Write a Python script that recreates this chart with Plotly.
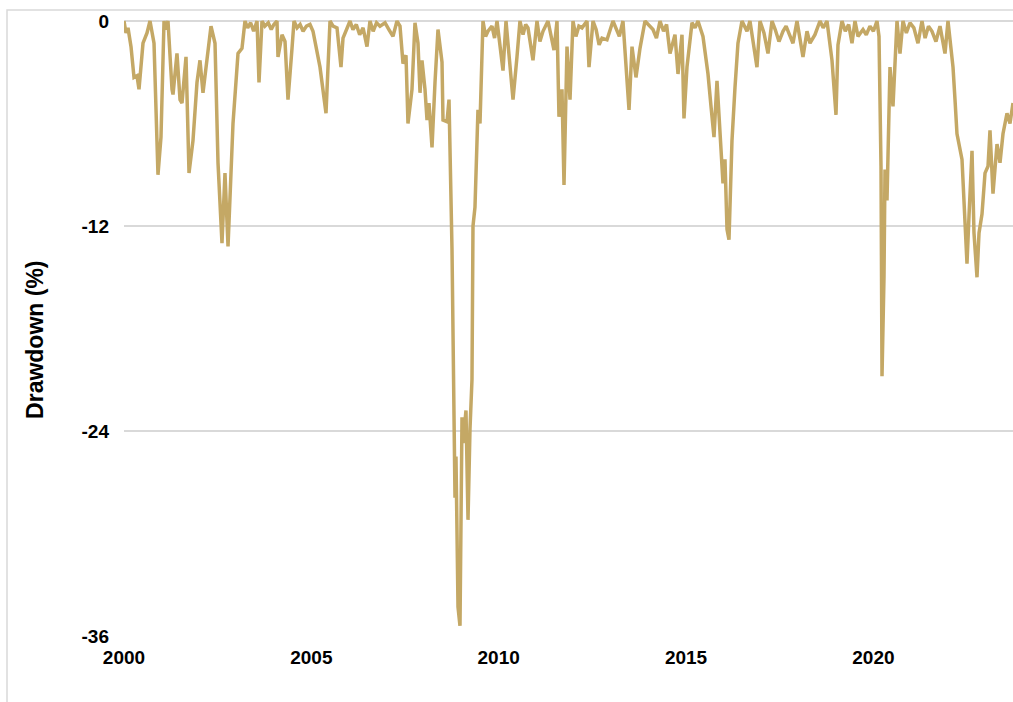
import plotly.graph_objects as go

# decimal-year offsets from 2000 and drawdown values (%)
year_offset = [
    0.000, 0.053, 0.107, 0.187, 0.267, 0.347, 0.400, 0.507, 0.614, 0.694,
    0.801, 0.907, 0.987, 1.068, 1.12, 1.174, 1.281, 1.308, 1.414, 1.495,
    1.548, 1.655, 1.735, 1.841, 1.948, 2.028, 2.108, 2.215, 2.322, 2.429,
    2.509, 2.615, 2.695, 2.776, 2.909, 3.043, 3.149, 3.229, 3.30, 3.38,
    3.46, 3.550, 3.603, 3.683, 3.76, 3.85, 3.93, 4.00, 4.083, 4.110,
    4.217, 4.297, 4.377, 4.484, 4.537, 4.62, 4.70, 4.78, 4.87, 4.964,
    5.044, 5.231, 5.391, 5.498, 5.58, 5.685, 5.791, 5.845, 6.032, 6.11,
    6.20, 6.29, 6.38, 6.485, 6.565, 6.65, 6.74, 6.832, 6.966, 7.07,
    7.179, 7.286, 7.366, 7.446, 7.526, 7.579, 7.686, 7.766, 7.846, 7.900,
    7.953, 8.033, 8.087, 8.140, 8.220, 8.300, 8.380, 8.487, 8.514, 8.620,
    8.674, 8.754, 8.807, 8.834, 8.860, 8.914, 8.967, 9.021, 9.047, 9.127,
    9.181, 9.234, 9.287, 9.314, 9.367, 9.421, 9.447, 9.501, 9.554, 9.581,
    9.65, 9.714, 9.821, 9.89, 9.955, 10.035, 10.115, 10.195, 10.382, 10.488,
    10.568, 10.65, 10.72, 10.782, 10.915, 11.022, 11.10, 11.182, 11.316, 11.476,
    11.556, 11.609, 11.689, 11.743, 11.823, 11.903, 11.983, 12.06, 12.14, 12.223,
    12.357, 12.410, 12.517, 12.60, 12.68, 12.757, 12.890, 13.050, 13.13, 13.22,
    13.317, 13.478, 13.558, 13.664, 13.771, 13.905, 14.118, 14.21, 14.305, 14.40,
    14.48, 14.572, 14.705, 14.785, 14.892, 14.945, 15.025, 15.159, 15.24, 15.319,
    15.452, 15.586, 15.666, 15.746, 15.826, 15.906, 15.986, 16.039, 16.093, 16.146,
    16.226, 16.306, 16.386, 16.493, 16.626, 16.706, 16.893, 16.973, 17.08, 17.187,
    17.294, 17.38, 17.48, 17.587, 17.67, 17.76, 17.854, 17.961, 18.121, 18.228,
    18.308, 18.441, 18.575, 18.66, 18.762, 18.895, 18.922, 19.002, 19.055, 19.162,
    19.25, 19.34, 19.429, 19.509, 19.589, 19.723, 19.81, 19.909, 20.00, 20.096,
    20.150, 20.203, 20.230, 20.283, 20.310, 20.363, 20.443, 20.523, 20.630, 20.710,
    20.790, 20.88, 20.977, 21.08, 21.190, 21.297, 21.38, 21.47, 21.564, 21.67,
    21.778, 21.911, 21.991, 22.125, 22.178, 22.231, 22.365, 22.445, 22.498, 22.552,
    22.632, 22.685, 22.765, 22.819, 22.899, 22.979, 23.059, 23.112, 23.192, 23.299,
    23.379, 23.459, 23.566, 23.646, 23.726,
]
drawdown = [
    0.0, -0.7, -0.4, -1.5, -3.3, -3.2, -4.0, -1.3, -0.7, 0.0,
    -1.3, -9.0, -6.8, 0.0, -0.5, 0.0, -4.0, -4.3, -1.9, -4.6,
    -4.8, -2.1, -8.9, -7.0, -3.6, -2.3, -4.2, -2.3, -0.3, -1.3,
    -8.3, -13.0, -8.9, -13.2, -6.0, -1.9, -1.6, 0.0, -0.4, -0.1,
    -0.6, 0.0, -3.6, 0.0, -0.3, -0.1, -0.5, -0.2, 0.0, -2.1,
    -0.8, -1.2, -4.6, -1.6, 0.0, -0.4, -0.2, -0.6, -0.3, -0.2,
    -0.6, -2.7, -5.4, 0.0, -0.3, -0.4, -2.7, -1.0, 0.0, -0.5,
    -0.2, -0.8, -0.4, -1.5, 0.0, -0.6, -0.1, -0.3, -0.1, -0.5,
    -0.9, 0.0, -0.3, -2.5, -2.0, -6.0, -4.0, -0.1, -1.3, -4.2,
    -2.3, -4.0, -5.8, -4.8, -7.4, -3.6, -0.5, -2.4, -5.8, -5.9,
    -4.6, -13.4, -25.5, -27.9, -25.5, -34.3, -35.4, -23.2, -24.7, -22.8,
    -29.2, -23.9, -21.0, -12.0, -10.9, -7.6, -5.2, -6.0, -1.5, 0.0,
    -0.9, -0.6, -0.3, -1.0, 0.0, -1.7, -2.9, 0.0, -4.6, -2.1,
    0.0, -0.8, -0.2, -0.4, -2.3, 0.0, -1.2, -0.6, 0.0, -1.7,
    0.0, -5.6, -4.0, -9.6, -1.5, -4.6, 0.0, -0.9, -0.3, -0.4,
    0.0, -2.7, 0.0, -0.5, -1.4, -1.0, -1.1, 0.0, -0.4, -0.9,
    0.0, -5.2, -1.5, -3.3, -1.6, 0.0, -0.5, -1.0, 0.0, -0.6,
    -0.2, -1.9, -0.8, -3.1, -0.8, -5.7, -2.7, -0.1, -0.4, 0.0,
    -0.9, -3.1, -5.0, -6.8, -3.5, -6.2, -9.5, -8.1, -12.2, -12.8,
    -7.0, -3.9, -1.3, 0.0, -0.6, 0.0, -2.7, 0.0, -0.7, -1.9,
    0.0, -0.5, -1.2, -0.6, -0.3, -0.8, -1.3, 0.0, -2.1, -0.6,
    -1.3, -0.8, 0.0, -0.4, 0.0, -2.3, -3.3, -5.5, -1.4, 0.0,
    -0.6, -0.2, -1.3, 0.0, -0.9, -0.5, -0.8, -0.3, -0.6, 0.0,
    -0.9, -8.5, -20.8, -15.0, -8.7, -10.5, -2.7, -5.0, 0.0, -1.9,
    0.0, -0.7, -0.1, -0.4, -1.3, 0.0, -1.0, -0.3, -0.6, -1.2,
    -0.3, -1.9, 0.0, -2.7, -4.6, -6.6, -8.1, -11.3, -14.2, -11.4,
    -7.6, -12.4, -15.0, -12.4, -11.3, -8.9, -8.5, -6.4, -10.1, -7.2,
    -8.3, -6.6, -5.4, -6.0, -4.8,
]
base_year = 2000
years = [base_year + v for v in year_offset]

y_ticks = [0, -12, -24, -36]
x_ticks = [2000, 2005, 2010, 2015, 2020]
y_title = "Drawdown (%)"

LINE = "#C4A865"
GRID = "#d9d9d9"
FONT = "Liberation Sans, Arial, sans-serif"

fig = go.Figure()
fig.add_trace(go.Scatter(
    x=years, y=drawdown, mode="lines",
    line=dict(color=LINE, width=3.5),
    hoverinfo="skip", showlegend=False,
))

fig.update_layout(
    width=1013, height=702,
    margin=dict(l=124, r=0, t=20, b=66, autoexpand=False),
    paper_bgcolor="white", plot_bgcolor="white",
    font=dict(family=FONT, color="#000000"),
    showlegend=False,
    xaxis=dict(
        range=[2000, 2023.726], tickvals=x_ticks,
        ticktext=[str(t) for t in x_ticks],
        showgrid=False, zeroline=False, showline=False, ticks="",
        tickfont=dict(size=19, family=FONT, weight="bold"),
        ticklabelstandoff=8, automargin=False,
    ),
    yaxis=dict(
        range=[-36, 0.06], tickvals=y_ticks,
        ticktext=[str(t) for t in y_ticks],
        showgrid=True, gridcolor=GRID, gridwidth=1.5,
        zeroline=False, showline=False, ticks="",
        tickfont=dict(size=19, family=FONT, weight="bold"),
        ticklabelstandoff=14, automargin=False,
    ),
    shapes=[dict(
        type="rect", xref="paper", yref="paper",
        x0=-0.1316, x1=1.05, y0=-0.14, y1=1.0162,
        line=dict(color=GRID, width=1.5), fillcolor="rgba(0,0,0,0)",
        layer="below",
    )],
    annotations=[dict(
        text=y_title, textangle=-90, xref="paper", yref="paper",
        x=-0.1002, y=0.4805, xanchor="center", yanchor="middle",
        showarrow=False,
        font=dict(size=23, family=FONT, weight="bold", color="#000000"),
    )],
)

fig.write_html(
    "out.html",
    config={"displayModeBar": False},
    post_script="document.body.style.margin='0';document.body.style.overflow='hidden';",
)
